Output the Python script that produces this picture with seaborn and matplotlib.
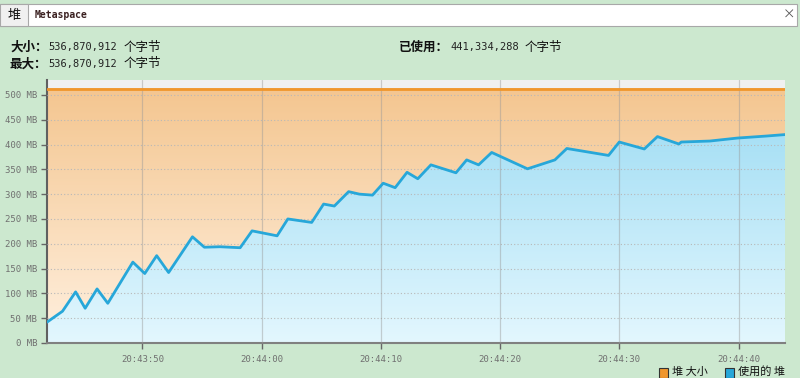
import numpy as np
import pandas as pd
import seaborn as sns
import matplotlib.pyplot as plt
import matplotlib.dates as mdates
from matplotlib.patches import Rectangle

# data
start_time = "2024-01-01 20:43:42"
elapsed_s = [0.0, 1.3, 2.4, 3.2, 4.2, 5.1, 7.2, 8.2, 9.2, 10.2, 11.2, 12.2, 13.2,
             14.5, 16.2, 17.2, 19.3, 20.2, 22.2, 23.2, 24.1, 25.3, 26.2, 27.3,
             28.2, 29.2, 30.2, 31.1, 32.2, 34.3, 35.2, 36.2, 37.3, 40.3, 42.6,
             43.6, 47.1, 48.0, 50.1, 51.2, 53.0, 53.2, 55.6, 57.9, 60.3, 61.9]
used_mb = [42, 64, 103, 70, 109, 80, 163, 140, 176, 142, 178, 214, 193,
           194, 192, 226, 216, 250, 243, 280, 276, 305, 300, 298,
           322, 313, 344, 331, 359, 343, 369, 359, 384, 351, 369,
           392, 378, 405, 391, 416, 401, 405, 407, 413, 417, 420]
heap_size_mb = 512
size_text = "536,870,912"
max_text = "536,870,912"
used_text = "441,334,288"
yticks = list(range(0, 501, 50))
xtick_labels = ["20:43:50", "20:44:00", "20:44:10", "20:44:20", "20:44:30", "20:44:40"]
legend_labels = ["堆 大小", "使用的 堆"]

df = pd.DataFrame({
    "time": pd.Timestamp(start_time) + pd.to_timedelta(elapsed_s, unit="s"),
    "used": used_mb,
})
df["size"] = heap_size_mb

sns.set_style("white")
plt.rcParams["font.family"] = ["Noto Sans CJK SC", "DejaVu Sans"]

W, H = 800, 378
fig = plt.figure(figsize=(W / 100, H / 100), dpi=100)
fig.patch.set_facecolor("#cce8cf")

def px(x, y):
    return x / W, 1 - y / H

# tab header
fig.patches.append(Rectangle(px(0, 26), 797 / W, 22 / H, transform=fig.transFigure,
                             facecolor="white", edgecolor="#a8a8a8", lw=0.8))
fig.patches.append(Rectangle(px(0, 26), 28 / W, 22 / H, transform=fig.transFigure,
                             facecolor="#f0f0f0", edgecolor="#a8a8a8", lw=0.8))
fig.text(*px(14, 15.5), "堆", ha="center", va="center", fontsize=9.5, color="#111111")
fig.text(*px(35, 15.5), "Metaspace", ha="left", va="center", fontsize=7,
         family="DejaVu Sans Mono", weight="bold", color="#3a2020")
fig.text(*px(789, 15.5), "×", ha="center", va="center", fontsize=9, color="#555555")

# info text
def info(x, y, label, value):
    lab = fig.text(*px(x, y), label, ha="left", va="center", fontsize=9,
                   weight="bold", color="#111111")
    fig.canvas.draw()
    bb = lab.get_window_extent()
    x2 = bb.x1 + 1
    fig.text(x2 / W, 1 - y / H, value, ha="left", va="center", fontsize=7.5,
             family="DejaVu Sans Mono", color="#222222")
    fig.text((x2 + len(value) * 6.25 + 6) / W, 1 - y / H, "个字节", ha="left",
             va="center", fontsize=9, color="#111111")

info(10, 47, "大小：", size_text)
info(10, 64, "最大：", max_text)
info(399, 47, "已使用：", used_text)

# plot area
ax = fig.add_axes([47 / W, 35 / H, 738 / W, 263 / H])
ax.set_facecolor("#f0f0f0")

t0 = mdates.date2num(df["time"].iloc[0])
t1 = mdates.date2num(df["time"].iloc[-1])

grad = np.linspace(0, 1, 256).reshape(-1, 1)
ax.imshow(grad, extent=[t0, t1, 0, heap_size_mb], origin="lower", aspect="auto",
          cmap=sns.blend_palette(["#fff0df", "#f4c690"], as_cmap=True), zorder=1)

poly = ax.fill_between(df["time"], 0, df["used"], facecolor="none", edgecolor="none")
blue = ax.imshow(grad, extent=[t0, t1, 0, max(used_mb)], origin="lower", aspect="auto",
                 cmap=sns.blend_palette(["#e3f7fe", "#a8e0f5"], as_cmap=True), zorder=2)
blue.set_clip_path(poly.get_paths()[0], transform=ax.transData)

sns.lineplot(data=df, x="time", y="size", ax=ax, color="#f0962c", lw=2, zorder=4)
sns.lineplot(data=df, x="time", y="used", ax=ax, color="#27a7d9", lw=2, zorder=5)

ax.set_xlim(df["time"].iloc[0], df["time"].iloc[-1])
ax.set_ylim(0, 530)
ax.set_yticks(yticks)
ax.set_yticklabels([f"{v} MB" for v in yticks])
xticks = [pd.Timestamp(start_time[:11] + s) for s in xtick_labels]
ax.set_xticks(xticks)
ax.set_xticklabels(xtick_labels)
ax.set_xlabel("")
ax.set_ylabel("")

for y in yticks[1:]:
    ax.axhline(y, color="#b8b8b8", lw=0.8, ls=(0, (1, 2)), zorder=3)
for x in xticks:
    ax.axvline(x, color="#999999", lw=0.9, alpha=0.45, zorder=3)

ax.tick_params(axis="both", length=4, width=1, color="#666666", labelsize=6.5,
               labelcolor="#707070", pad=3, direction="out")
ax.tick_params(axis="x", pad=5)
ax.tick_params(bottom=True, left=True)
for lbl in ax.get_xticklabels() + ax.get_yticklabels():
    lbl.set_family("DejaVu Sans Mono")
for side in ["top", "right"]:
    ax.spines[side].set_visible(False)
ax.spines["left"].set_color("#606060")
ax.spines["left"].set_linewidth(1.5)
ax.spines["bottom"].set_color("#808080")
ax.spines["bottom"].set_linewidth(1.5)

# legend at bottom right
for x, c, lab in [(659, "#f0962c", legend_labels[0]), (725, "#27a7d9", legend_labels[1])]:
    fig.patches.append(Rectangle(px(x, 378), 9 / W, 10 / H, transform=fig.transFigure,
                                 facecolor=c, edgecolor="#333333", lw=0.8))
    fig.text(*px(x + 13, 366.5), lab, ha="left", va="top", fontsize=8, color="#111111")

fig.savefig("out.png", dpi=100)
